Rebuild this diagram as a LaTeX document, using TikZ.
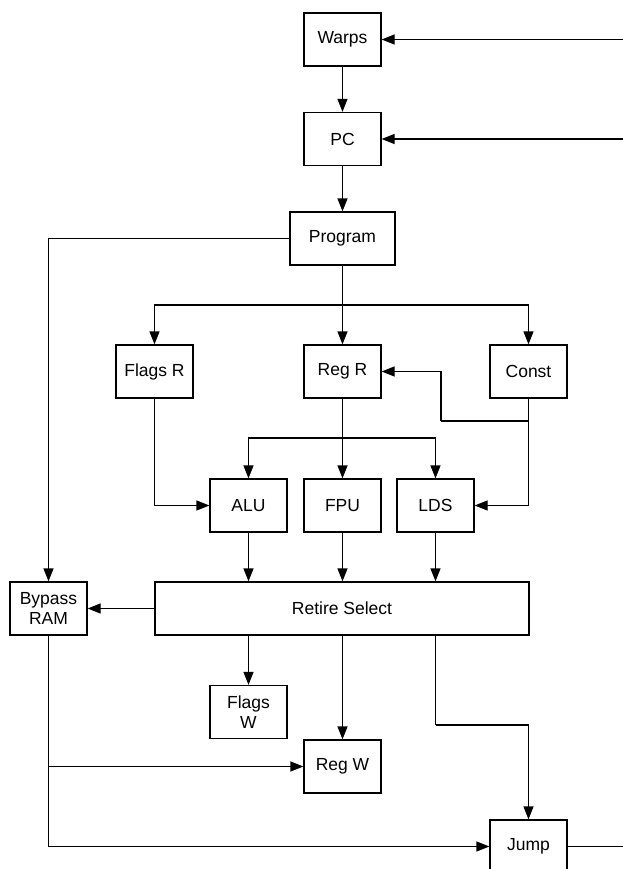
\documentclass[tikz,border=0pt]{standalone}
\usepackage{fontspec}
\setmainfont{Liberation Sans}
\usetikzlibrary{arrows.meta}
\begin{document}
\begin{tikzpicture}[x=1pt,y=-1pt,
  box/.style={draw, line width=1.3pt, minimum width=77pt, minimum height=53pt, inner sep=2pt, font=\fontsize{17.5}{20}\selectfont, align=center},
  arr/.style={line width=1.3pt, -{Triangle[length=13pt,width=10pt]}},
  ln/.style={line width=1.3pt}]
\useasboundingbox (0,0) rectangle (623,869);
\clip (0,0) rectangle (623,869);
\node[box] (warps) at (342.5,39.5) {Warps};
\node[box] (pc) at (342.5,139) {PC};
\node[box, minimum width=105pt] (program) at (342.5,238.5) {Program};
\node[box] (flagsr) at (154.5,371.5) {Flags R};
\node[box] (regr) at (342.5,371.5) {Reg R};
\node[box] (const) at (528.5,371.5) {Const};
\node[box] (alu) at (248.5,505.5) {ALU};
\node[box] (fpu) at (342.5,505.5) {FPU};
\node[box] (lds) at (435.5,505.5) {LDS};
\node[box] (bypass) at (48.5,608.5) {Bypass\\RAM};
\node[box, minimum width=374pt] (retire) at (342,608.5) {Retire Select};
\node[box] (flagsw) at (248.5,712) {Flags\\W};
\node[box] (regw) at (342.5,766.5) {Reg W};
\node[box] (jump) at (528.5,846.5) {Jump};
\coordinate (inw) at (623,39.5);
\coordinate (inpc) at (623,139);
\coordinate (outj) at (623,846.5);
\coordinate (b1) at (342.5,305);
\coordinate (c1) at (528.5,421);
\coordinate (c2) at (441,421);
\coordinate (r1) at (342.5,438);
\coordinate (j1) at (435.5,725);
\draw[arr] (inw) -- (warps);
\draw[arr] (warps) -- (pc);
\draw[arr] (inpc) -- (pc);
\draw[arr] (pc) -- (program);
\draw[arr] (program.west) -| (bypass.north);
\draw[ln] (program.south) -- (b1);
\draw[arr] (b1) -| (flagsr.north);
\draw[arr] (b1) -- (regr);
\draw[arr] (b1) -| (const.north);
\draw[ln] (const.south) -- (c1) -- (c2);
\draw[arr] (c2) |- (regr.east);
\draw[arr] (c1) |- (lds.east);
\draw[arr] (flagsr.south) |- (alu.west);
\draw[ln] (regr.south) -- (r1);
\draw[arr] (r1) -| (alu.north);
\draw[arr] (r1) -- (fpu);
\draw[arr] (r1) -| (lds.north);
\draw[arr] (alu.south) -- (alu.south |- retire.north);
\draw[arr] (fpu.south) -- (fpu.south |- retire.north);
\draw[arr] (lds.south) -- (lds.south |- retire.north);
\draw[arr] (retire.west) -- (bypass.east);
\draw[arr] (flagsw.north |- retire.south) -- (flagsw.north);
\draw[arr] (regw.north |- retire.south) -- (regw.north);
\draw[ln] (lds.south |- retire.south) -- (j1);
\draw[arr] (j1) -| (jump.north);
\draw[arr] (bypass.south) |- (jump.west);
\draw[arr] (bypass.south |- regw.west) -- (regw.west);
\draw[ln] (jump.east) -- (outj);
\end{tikzpicture}
\end{document}
